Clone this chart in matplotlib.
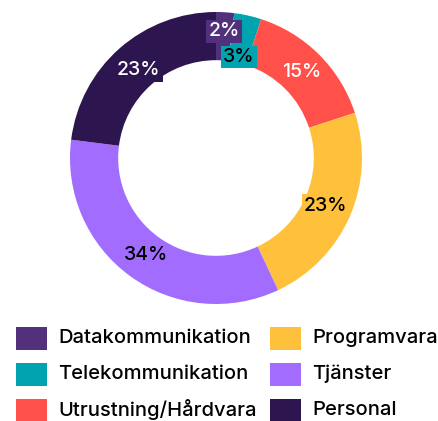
import matplotlib
matplotlib.use("Agg")
import matplotlib.pyplot as plt
from matplotlib.patches import Rectangle
import numpy as np

labels = ["Datakommunikation", "Telekommunikation", "Utrustning/Hårdvara",
          "Programvara", "Tjänster", "Personal"]
values = [2, 3, 15, 23, 34, 23]
colors = ["#52307c", "#00a3b0", "#ff5149", "#ffc13b", "#a26cff", "#2d1650"]
text_colors = ["white", "black", "white", "black", "black", "white"]
label_radius = [0.87, 0.71, 0.83, 0.82, 0.82, 0.80]

plt.rcParams["font.family"] = ["Inter", "DejaVu Sans"]

W, H = 439, 421
fig = plt.figure(figsize=(W / 100, H / 100), dpi=100)

# donut: centre (216,158) px, outer radius 146 px
cx, cy, r = 216, 158, 146
ax = fig.add_axes([(cx - r) / W, (H - cy - r) / H, 2 * r / W, 2 * r / H])
wedges, _ = ax.pie(values, colors=colors, startangle=90, counterclock=False,
                   wedgeprops=dict(width=0.33, linewidth=0))
ax.set_xlim(-1, 1)
ax.set_ylim(-1, 1)
ax.set_aspect("equal")

ang = 90.0
for v, c, tc, lr in zip(values, colors, text_colors, label_radius):
    mid = np.deg2rad(ang - v * 3.6 / 2)
    ang -= v * 3.6
    ax.text(lr * np.cos(mid), lr * np.sin(mid), f"{v}%", ha="center", va="center",
            fontsize=14, fontweight="medium", color=tc,
            bbox=dict(boxstyle="square,pad=0.12", fc=c, ec="none"))

# legend, two columns
for i, (lab, c) in enumerate(zip(labels, colors)):
    col, row = divmod(i, 3)
    x0 = 16 + col * 254
    yc = 338 + row * 36
    fig.patches.append(Rectangle((x0 / W, (H - yc - 11.5) / H), 31 / W, 23 / H,
                                 transform=fig.transFigure, fc=c, ec="none"))
    fig.text((x0 + 42) / W, (H - yc) / H, lab, ha="left", va="center",
             fontsize=14.5, fontweight="medium", color="black")

fig.savefig("out.png", dpi=100)
